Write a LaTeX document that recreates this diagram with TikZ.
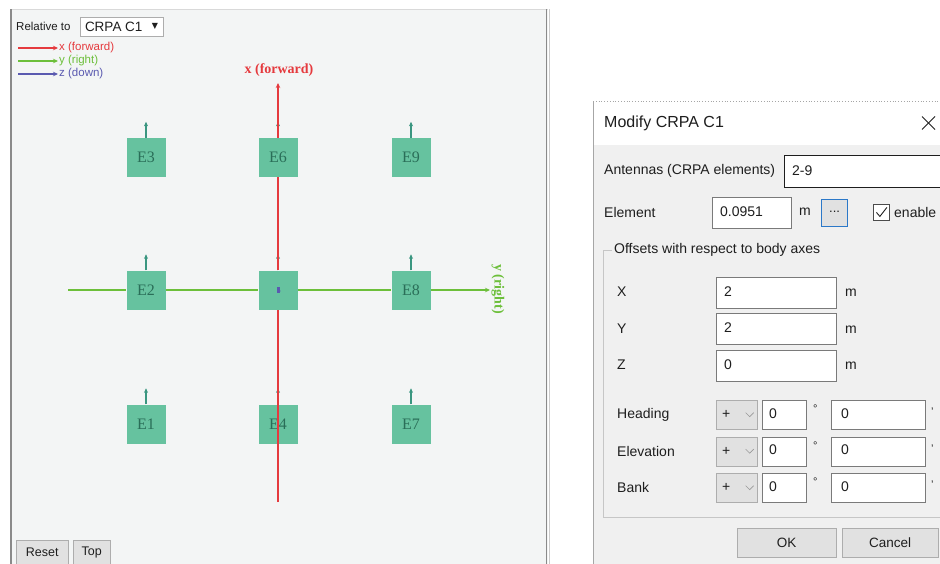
\documentclass[tikz,border=0pt]{standalone}
\usepackage{fontspec}
\setmainfont{Liberation Sans}
\newfontfamily\seriffont{Liberation Serif}
\newfontfamily\symfont{DejaVu Sans}
\usetikzlibrary{arrows.meta}

\definecolor{panelbg}{HTML}{F3F5F5}
\definecolor{framecol}{HTML}{8A8A8A}
\definecolor{elemfill}{HTML}{66C29F}
\definecolor{elemtext}{HTML}{2A6E58}
\definecolor{stubcol}{HTML}{3A9680}
\definecolor{axred}{HTML}{E53A3E}
\definecolor{axgreen}{HTML}{6CBF3A}
\definecolor{axblue}{HTML}{5A5AB0}
\definecolor{dlgbg}{HTML}{F0F0F0}
\definecolor{btnfill}{HTML}{E1E1E1}
\definecolor{btnline}{HTML}{ADADAD}
\definecolor{fieldline}{HTML}{7A7A7A}
\definecolor{uitext}{HTML}{1E1E1E}
\definecolor{focusblue}{HTML}{2B78C8}

\begin{document}
\begin{tikzpicture}[x=1pt,y=-1pt,
  elem/.style={fill=elemfill, minimum width=39, minimum height=39, inner sep=0,
    font=\seriffont\fontsize{16}{16}\selectfont, text=elemtext},
  stub/.style={draw=stubcol, line width=1.2pt, -{Stealth[length=4.5pt,width=4pt]}},
  legarrow/.style={line width=1.3pt, -{Stealth[length=5pt,width=4.5pt]}},
  legtext/.style={anchor=west, inner sep=1, font=\fontsize{11.5}{12}\selectfont},
  axislabel/.style={font=\seriffont\bfseries\fontsize{14}{14}\selectfont},
  uibtn/.style={draw=btnline, fill=btnfill, inner sep=0, text=uitext,
    font=\fontsize{13.5}{14}\selectfont},
  field/.style={draw=fieldline, fill=white, inner sep=0},
  lbl/.style={anchor=west, inner sep=0, text=uitext, font=\fontsize{14}{15}\selectfont},
  val/.style={anchor=west, inner sep=0, text=uitext, font=\fontsize{14}{15}\selectfont},
]
\useasboundingbox (0,0) rectangle (940,563);
\fill[white] (0,0) rectangle (940,563);

% ---------------- left panel: array view ----------------
\fill[panelbg] (10,9) rectangle (548,570);
\draw[gray!30, line width=1pt] (10,9) -- (548,9);
\draw[framecol, line width=1.6pt] (11,9) -- (11,570);
\draw[framecol, line width=1.6pt] (546.5,9) -- (546.5,570);
\draw[gray!40, line width=0.8pt] (549.5,9) -- (549.5,570);

\node[anchor=west, inner sep=0, text=uitext, font=\fontsize{11.5}{12}\selectfont] (reltxt) at (16,26) {Relative to};
\node[draw=btnline, fill=white, minimum width=83, minimum height=19, inner sep=0] (relbox) at (121.5,26.5) {};
\node[anchor=west, inner sep=0, text=uitext, font=\fontsize{13.5}{14}\selectfont] (reltgt) at ([xshift=5]relbox.west) {CRPA C1};
\node[anchor=east, inner sep=0, text=uitext, font=\symfont\fontsize{8}{8}\selectfont] (reldrop) at ([xshift=-5]relbox.east) {▼};

% legend
\coordinate (lx0) at (18,48);  \coordinate (lx1) at (58,48);
\coordinate (ly0) at (18,61);  \coordinate (ly1) at (58,61);
\coordinate (lz0) at (18,74);  \coordinate (lz1) at (58,74);
\draw[legarrow, axred] (lx0) -- (lx1);
\draw[legarrow, axgreen] (ly0) -- (ly1);
\draw[legarrow, axblue] (lz0) -- (lz1);
\node[legtext, text=axred] (lxt) at (lx1) {x (forward)};
\node[legtext, text=axgreen] (lyt) at (ly1) {y (right)};
\node[legtext, text=axblue] (lzt) at (lz1) {z (down)};

% elements
\node[elem] (E3) at (146,157.5) {E3};
\node[elem] (E6) at (278,157.5) {E6};
\node[elem] (E9) at (411,157.5) {E9};
\node[elem] (E2) at (146,290) {E2};
\node[elem] (C)  at (278,290) {};
\node[elem] (E8) at (411,290) {E8};
\node[elem] (E1) at (146,424) {E1};
\node[elem] (E4) at (278,424) {E4};
\node[elem] (E7) at (411,424) {E7};

% green y axis
\coordinate (yaxL) at (68,290);
\coordinate (yaxR) at (490,290);
\draw[axgreen, line width=1.3pt] (yaxL) -- (E2.west);
\draw[axgreen, line width=1.3pt] (E2.east) -- (C.west);
\draw[axgreen, line width=1.3pt] (C.east) -- (E8.west);
\draw[axgreen, line width=1.3pt, -{Stealth[length=5pt,width=4.5pt]}] (E8.east) -- (yaxR);
\node[axislabel, text=axgreen, rotate=-90] (ylab) at (498,289) {y (right)};

% stubs on every element
\foreach \e in {E3,E6,E9,E2,C,E8,E1,E4,E7}
  \draw[stub] (\e.north) -- ++(0,-16);

% red x axis
\coordinate (xaxB) at (278,502);
\coordinate (xaxT) at (278,83);
\draw[axred, line width=1.4pt] (xaxB) -- (E4.south);
\draw[axred, line width=1.4pt] (E4.north) -- (C.south);
\draw[axred, line width=1.4pt] (C.north) -- (E6.south);
\draw[axred, line width=1.4pt, -{Stealth[length=5pt,width=4.5pt]}] (E6.north) -- (xaxT);
\draw[axred, line width=1.4pt] (E4.north) -- (E4.south);
\node[axislabel, text=axred] (xlab) at (279,70) {x (forward)};

% centre element: z marker
\fill[axblue] (C.center) ++(-1.5,-3) rectangle ++(3,6);
\fill[axblue] (C.center) ++(1.5,1) circle (1.2);

% bottom buttons
\node[uibtn, minimum width=52, minimum height=24, anchor=north west, font=\fontsize{12.5}{13}\selectfont] (reset) at (16,540) {Reset};
\node[uibtn, minimum width=37, minimum height=24, anchor=north west, font=\fontsize{12.5}{13}\selectfont] (top) at (73,540) {Top};

% ---------------- right panel: dialog ----------------
\fill[white] (593,101) rectangle (945,145);
\fill[dlgbg] (593,145) rectangle (945,570);
\draw[gray!70, line width=0.8pt, dotted] (593,101) -- (945,101);
\draw[gray!70, line width=0.8pt] (593,101) -- (593,570);

\node[anchor=west, inner sep=0, text=uitext, font=\fontsize{16}{16}\selectfont] (title) at (604,123.5) {Modify CRPA C1};
\coordinate (xc) at (928.5,123);
\draw[uitext, line width=0.9pt] ([shift={(-6.5,-6.5)}]xc) -- ([shift={(6.5,6.5)}]xc);
\draw[uitext, line width=0.9pt] ([shift={(-6.5,6.5)}]xc) -- ([shift={(6.5,-6.5)}]xc);

% antennas
\node[lbl] (antlbl) at (604,171) {Antennas (CRPA elements)};
\node[field, draw=uitext, anchor=north west, minimum width=170, minimum height=32] (antbox) at (784,155) {};
\node[val] (antval) at ([xshift=8,yshift=1]antbox.west) {2-9};

% element size
\node[lbl] (elemlbl) at (604,212) {Element};
\node[field, anchor=north west, minimum width=79, minimum height=31] (elembox) at (712,197) {};
\node[val] (elemval) at ([xshift=8,yshift=1.5]elembox.west) {0.0951};
\node[lbl] (elemunit) at (799,212) {m};
\node[draw=focusblue, line width=1.3pt, fill=btnfill, minimum width=26, minimum height=27, inner sep=0,
  anchor=north west] (dots) at (821,199) {};
\node[inner sep=0, text=uitext, font=\fontsize{13}{13}\selectfont] at ([yshift=1]dots.center) {...};
\node[draw=uitext!80, fill=white, line width=0.8pt, minimum size=16, inner sep=0, anchor=north west] (chk) at (873,204) {};
\draw[uitext, line width=0.9pt] ([shift={(-5,0)}]chk.center) -- ([shift={(-1.5,4)}]chk.center) -- ([shift={(5.5,-5)}]chk.center);
\node[lbl] (chklbl) at (894,212) {enable};

% offsets group
\coordinate (g1) at (603,250);
\draw[gray!45, line width=0.8pt] (660,250) -- (g1) -- (603,517) -- (945,517);
\node[lbl, fill=dlgbg, inner xsep=2] (grptitle) at (612,250) {Offsets with respect to body axes};

\node[lbl] (xl) at (617,292) {X};
\node[field, anchor=north west, minimum width=120, minimum height=31] (xbox) at (716,277) {};
\node[val] at ([xshift=8,yshift=1.5]xbox.west) {2};
\node[lbl] at (845,293) {m};

\node[lbl] (yl) at (617,328.5) {Y};
\node[field, anchor=north west, minimum width=120, minimum height=31] (ybox) at (716,313) {};
\node[val] at ([xshift=8,yshift=1.5]ybox.west) {2};
\node[lbl] at (845,329.5) {m};

\node[lbl] (zl) at (617,365) {Z};
\node[field, anchor=north west, minimum width=120, minimum height=31] (zbox) at (716,350) {};
\node[val] at ([xshift=8,yshift=1.5]zbox.west) {0};
\node[lbl] at (845,366) {m};

% attitude rows
\foreach \nm/\lab/\yy in {hd/Heading/400, el/Elevation/436.5, bk/Bank/473} {
  \node[lbl] (\nm lbl) at (617,\yy+14.5) {\lab};
  \node[draw=btnline, fill=btnfill, anchor=north west, minimum width=41, minimum height=29, inner sep=0] (\nm sign) at (716,\yy) {};
  \node[val] at ([xshift=6]\nm sign.west) {+};
  \draw[gray!80, line width=0.7pt] ([shift={(9,-2)}]\nm sign.center) -- ([shift={(13,2)}]\nm sign.center) -- ([shift={(17,-2)}]\nm sign.center);
  \node[field, anchor=north west, minimum width=44, minimum height=29] (\nm deg) at (762,\yy) {};
  \node[val] at ([xshift=7,yshift=1.5]\nm deg.west) {0};
  \node[val, font=\fontsize{11}{11}\selectfont] at (813,\yy+9) {°};
  \node[field, anchor=north west, minimum width=94, minimum height=29] (\nm min) at (831,\yy) {};
  \node[val] at ([xshift=10,yshift=1.5]\nm min.west) {0};
  \node[val, font=\fontsize{11}{11}\selectfont] at (931,\yy+12) {'};
}

% dialog buttons
\node[uibtn, anchor=north west, minimum width=99, minimum height=29] (ok) at (737,528) {OK};
\node[uibtn, anchor=north west, minimum width=96, minimum height=29] (cancel) at (842,528) {Cancel};
\end{tikzpicture}
\end{document}
